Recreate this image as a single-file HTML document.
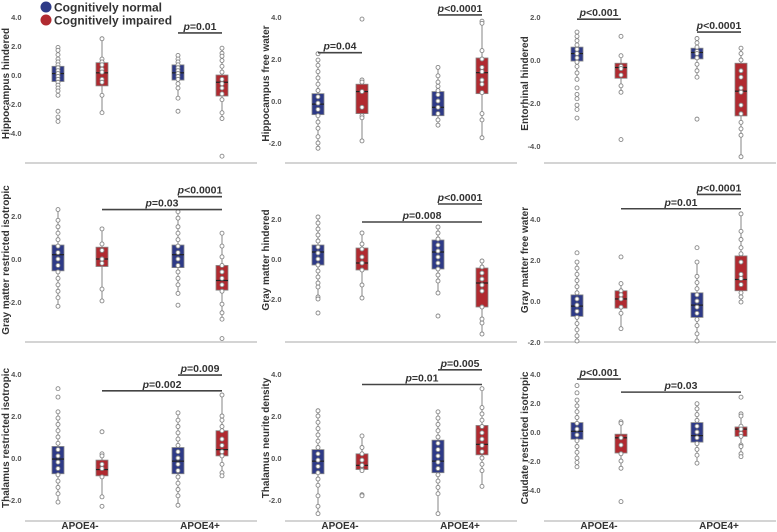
<!DOCTYPE html>
<html><head><meta charset="utf-8">
<style>
body{margin:0;background:#fff;}
svg{display:block;font-family:"Liberation Sans",Arial,sans-serif;}
</style></head>
<body>
<svg id="chart" width="777" height="532" viewBox="0 0 777 532" xmlns="http://www.w3.org/2000/svg">
<g>
<circle cx="46" cy="7" r="5.5" fill="#2e3a87"/>
<text x="54" y="11.5" font-size="12" font-weight="bold" fill="#333">Cognitively normal</text>
<circle cx="46" cy="20" r="5.5" fill="#b02a30"/>
<text x="54" y="24.5" font-size="12" font-weight="bold" fill="#333">Cognitively impaired</text>
</g>
</svg>
<script>
// ---- data ----
const panelTitles = ["Hippocampus hindered","Hippocampus free water","Entorhinal hindered",
 "Gray matter restricted isotropic","Gray matter hindered","Gray matter free water",
 "Thalamus restricted isotropic","Thalamus neurite density","Caudate restricted isotropic"];
const groupColors = ["#2e3a87","#b02a30","#2e3a87","#b02a30"];
const xCategories = ["APOE4-","APOE4+"];
const yTicks = [[4,2,0,-2,-4],[4,2,0,-2],[2,0,-2,-4],[2,0,-2],[2,0,-2],[4,2,0,-2],[4,2,0,-2],[4,2,0,-2],[4,2,0,-2,-4]];
// boxes: [q1, median, q3, whiskerLow, whiskerHigh] per group
const boxStats = [
 [[-0.45,0.1,0.6,-1.4,1.9],[-0.75,0.15,0.85,-2.6,2.5],[-0.35,0.15,0.7,-1.6,1.35],[-1.45,-0.5,0.0,-3.0,1.85]],
 [[-0.65,-0.15,0.35,-2.25,1.95],[-0.6,0.45,0.8,-1.9,1.0],[-0.7,-0.3,0.45,-1.15,1.6],[0.35,1.35,2.05,-1.75,3.8]],
 [[-0.05,0.3,0.6,-0.9,1.3],[-0.85,-0.35,-0.15,-1.5,0.2],[0.05,0.35,0.55,-0.8,1.0],[-2.6,-1.45,-0.15,-4.5,0.55]],
 [[-0.55,0.2,0.65,-2.2,2.3],[-0.35,0.0,0.55,-1.95,1.4],[-0.4,0.2,0.65,-1.6,2.2],[-1.45,-1.0,-0.3,-2.8,1.2]],
 [[-0.3,0.35,0.7,-2.0,2.1],[-0.55,-0.2,0.55,-1.95,1.3],[-0.5,0.35,0.95,-1.7,1.6],[-2.4,-1.2,-0.45,-3.75,-0.1]],
 [[-0.75,-0.25,0.3,-1.95,1.9],[-0.35,0.1,0.5,-1.35,0.85],[-0.8,-0.2,0.4,-1.95,1.9],[0.5,1.05,2.2,-0.05,4.25]],
 [[-0.75,-0.05,0.55,-2.1,2.2],[-0.85,-0.55,-0.1,-1.85,0.2],[-0.75,-0.15,0.5,-2.25,2.15],[0.1,0.4,1.3,-0.85,3.0]],
 [[-0.75,-0.15,0.4,-2.65,2.25],[-0.55,-0.35,0.2,-0.6,1.05],[-0.7,-0.15,0.85,-2.65,2.2],[0.15,0.65,1.55,-1.35,3.3]],
 [[-0.5,0.05,0.65,-2.4,2.2],[-1.45,-0.4,-0.15,-2.5,0.7],[-0.7,-0.25,0.65,-2.15,1.95],[-0.3,0.2,0.35,-1.7,1.25]]
];
// individual observations (estimated) per group
const points = [
 [[1.9,1.7,1.4,1.1,0.9,0.7,0.5,0.3,0.1,-0.1,-0.3,-0.5,-0.7,-0.9,-1.1,-1.4,-2.5,-2.9,-3.2],[2.5,1.1,0.9,0.7,0.4,0.2,-0.3,-0.5,-1.4,-2.6],[1.35,1.1,0.9,0.7,0.5,0.3,0.1,-0.1,-0.3,-0.6,-0.9,-1.6,-2.5],[1.85,1.5,1.3,1.0,0.6,0.2,-0.3,-0.6,-0.9,-1.3,-1.7,-2.6,-3.0,-5.6]],
 [[2.25,1.95,1.7,1.4,1.1,0.8,0.5,0.2,-0.1,-0.4,-0.7,-1.0,-1.3,-1.7,-2.0,-2.25],[3.9,1.0,0.9,0.45,-0.3,-0.7,-0.8,-1.9],[1.6,1.2,0.9,0.7,0.5,0.3,0.0,-0.3,-0.6,-0.9,-1.15],[3.8,3.7,2.4,2.0,1.6,1.4,1.0,0.8,0.4,-0.6,-0.9,-1.75]],
 [[1.3,1.1,0.9,0.7,0.5,0.3,0.1,-0.1,-0.3,-0.6,-0.9,-1.3,-1.6,-1.8,-2.1,-2.3,-2.7],[1.1,0.2,-0.3,-0.4,-0.7,-1.2,-1.5,-3.7],[1.0,0.8,0.6,0.4,0.3,0.1,-0.2,-0.5,-0.8,-2.75],[0.55,0.3,0.0,-0.5,-0.8,-1.3,-1.5,-2.1,-2.5,-2.9,-3.2,-3.5,-4.5]],
 [[2.3,1.8,1.5,1.2,0.9,0.6,0.3,0.0,-0.3,-0.6,-0.9,-1.2,-1.5,-1.8,-2.2],[1.4,0.7,0.4,0.0,-0.2,-1.4,-1.95],[2.2,1.9,1.5,1.2,0.9,0.6,0.3,0.0,-0.3,-0.6,-0.9,-1.2,-1.6,-2.15],[1.2,0.6,0.1,-0.3,-0.6,-0.9,-1.2,-1.5,-2.1,-2.5,-2.8,-3.7]],
 [[2.1,1.8,1.5,1.2,0.9,0.6,0.3,0.0,-0.3,-0.6,-0.9,-1.2,-1.4,-1.9,-2.0,-2.7],[1.3,0.75,0.5,0.1,-0.2,-0.55,-1.3,-1.95],[1.6,1.3,1.0,0.7,0.4,0.1,-0.2,-0.5,-0.8,-1.1,-1.7,-2.85],[-0.1,-0.4,-0.7,-1.0,-1.3,-1.6,-2.4,-3.0,-3.2,-3.75]],
 [[2.35,1.9,1.6,1.3,1.0,0.7,0.4,0.1,-0.2,-0.5,-0.8,-1.1,-1.4,-1.7,-1.95],[2.15,0.85,0.5,0.3,0.1,-0.3,-0.6,-1.35],[2.6,1.9,1.2,0.9,0.6,0.3,0.0,-0.3,-0.6,-0.9,-1.2,-1.6,-1.95],[4.25,3.4,3.0,2.6,2.3,1.9,1.3,1.1,0.8,0.4,0.2,-0.05]],
 [[3.3,2.9,2.2,1.9,1.6,1.3,1.0,0.7,0.4,0.1,-0.2,-0.5,-0.8,-1.1,-1.4,-1.7,-2.1],[1.25,0.2,0.1,-0.3,-0.5,-0.9,-1.85,-2.3],[2.15,1.8,1.5,1.2,0.9,0.6,0.3,0.0,-0.3,-0.6,-0.9,-1.2,-1.5,-1.8,-2.25],[3.0,2.0,1.8,1.5,1.3,0.9,0.6,0.3,0.1,-0.3,-0.7,-0.85]],
 [[2.25,2.0,1.7,1.4,1.1,0.8,0.5,0.2,-0.1,-0.4,-0.7,-1.0,-1.3,-1.8,-2.3,-2.65],[1.05,0.5,0.2,-0.1,-0.35,-0.55,-0.6,-1.75,-1.8],[2.2,1.9,1.6,1.3,1.0,0.7,0.4,0.1,-0.2,-0.5,-0.8,-1.1,-1.4,-1.7,-2.65],[3.3,2.4,2.1,1.8,1.5,1.2,0.9,0.6,0.3,0.0,-0.3,-0.6,-1.35]],
 [[3.2,2.7,2.2,1.8,1.4,1.0,0.6,0.2,-0.2,-0.6,-1.0,-1.4,-1.8,-2.1,-2.4],[0.7,0.6,-0.4,-0.9,-1.5,-2.0,-2.5,-4.8],[1.95,1.6,1.2,0.8,0.4,0.0,-0.4,-0.8,-1.2,-1.6,-2.15],[2.4,1.25,1.1,0.4,0.2,-0.1,-0.3,-0.9,-1.0,-1.5,-1.7]]
];
// brackets: [fromGroup, toGroup, yValue, label]
const brackets = [
 [[2,3,2.9,"=0.01"]],
 [[0,1,2.3,"=0.04"],[2,3,4.1,"<0.0001"]],
 [[0,1,1.9,"<0.001"],[2,3,1.3,"<0.0001"]],
 [[1,3,2.3,"=0.03"],[2,3,2.9,"<0.0001"]],
 [[1,3,1.85,"=0.008"],[2,3,2.75,"<0.0001"]],
 [[1,3,4.5,"=0.01"],[2,3,5.2,"<0.0001"]],
 [[1,3,3.2,"=0.002"],[2,3,3.95,"=0.009"]],
 [[1,3,3.5,"=0.01"],[2,3,4.2,"=0.005"]],
 [[0,1,3.65,"<0.001"],[1,3,2.75,"=0.03"]]
];
// ---- layout ----
const colX = [0,260,519];
const rowAxis = [163,342,521];
const zeroPx = [75,101,60,259,259,301,458,458,432];
const pxPerUnit = [14.5,21,21.5,21.5,20,20.5,21,21,14.5];
const rowTop = [4,178,355];
const groupOff = [58,102,178,222];
const NS = "http://www.w3.org/2000/svg";
const svg = document.getElementById("chart");
function mk(tag, attrs, parent){const e=document.createElementNS(NS,tag);for(const k in attrs)e.setAttribute(k,attrs[k]);(parent||svg).appendChild(e);return e;}

for(let p=0;p<9;p++){
  const col=p%3,row=Math.floor(p/3),x0=colX[col],axisY=rowAxis[row];
  const yS=v=>zeroPx[p]-v*pxPerUnit[p];
  const xS=g=>x0+groupOff[g];
  const g=mk("g",{});
  
  
  const ax=mk("line",{x1:x0+25,x2:x0+257,y1:axisY,y2:axisY,stroke:"#bbb","stroke-width":1.2},g);
  
  
  const tt=mk("text",{x:0,y:0,"font-size":10,"font-weight":"bold",fill:"#333","text-anchor":"middle",transform:`translate(${x0+9},${(rowTop[row]+axisY)/2}) rotate(-90)`},g);
  tt.textContent=panelTitles[p];
  
  
  yTicks[p].forEach(t=>{
    const tl=mk("text",{x:x0+21.5,y:yS(t)+3,"font-size":7.5,"font-weight":"bold",fill:"#555","text-anchor":"end"},g);
    tl.textContent=t.toFixed(1);
    
    
  });
  if(row===2){
    xCategories.forEach((c,i)=>{
      const xl=mk("text",{x:x0+80+i*120,y:529,"font-size":10,"font-weight":"bold",fill:"#333","text-anchor":"middle"},g);
      xl.textContent=c;
      
      
    });
  }
  for(let k=0;k<4;k++){
    const [q1,md,q3,lo,hi]=boxStats[p][k];const cx=xS(k);
    const wh=mk("line",{x1:cx,x2:cx,y1:yS(hi),y2:yS(lo),stroke:"#999","stroke-width":1.2},g);
    
    
    const bx=mk("rect",{x:cx-6,y:yS(q3),width:12,height:yS(q1)-yS(q3),fill:groupColors[k],stroke:"#888","stroke-width":0.8},g);
    
    
    const ml=mk("line",{x1:cx-6,x2:cx+6,y1:yS(md),y2:yS(md),stroke:"#222","stroke-width":1.2},g);
    
    
    points[p][k].forEach(v=>{
      const c=mk("circle",{cx:cx,cy:yS(v),r:2,fill:"#fff",stroke:"#888","stroke-width":0.9},g);
      
      
    });
  }
  brackets[p].forEach(b=>{
    const y=yS(b[2]);
    const bl=mk("line",{x1:xS(b[0]),x2:xS(b[1]),y1:y,y2:y,stroke:"#444","stroke-width":1.6},g);
    
    
    const t=mk("text",{x:(xS(b[0])+xS(b[1]))/2,y:y-3,"font-size":10.5,"font-weight":"bold",fill:"#333","text-anchor":"middle"},g);
    const ts=mk("tspan",{"font-style":"italic"},t);ts.textContent="p";
    const ts2=mk("tspan",{},t);ts2.textContent=b[3];
    
    
  });
}
</script>
</body></html>
